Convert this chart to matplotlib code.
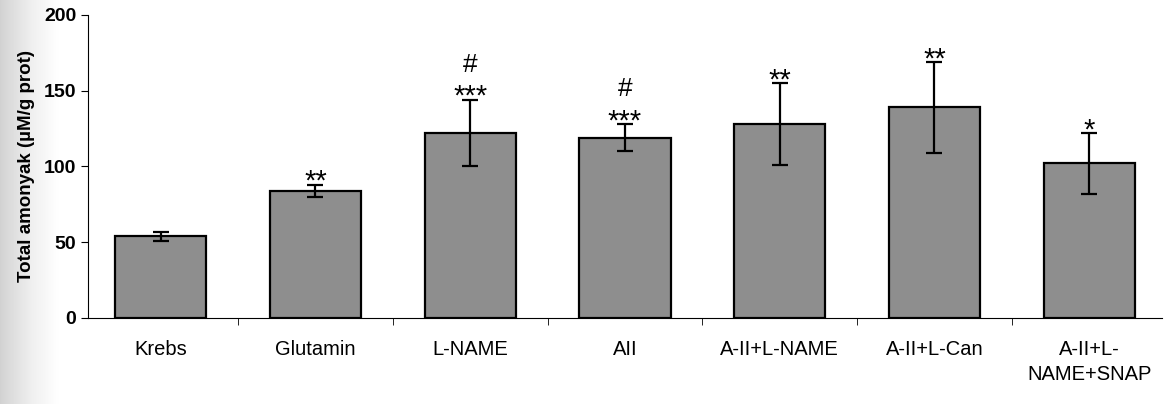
import matplotlib.pyplot as plt
import numpy as np

# total ammonia per group, mean and SD
groups = ['Krebs', 'Glutamin', 'L-NAME', 'AII', 'A-II+L-NAME', 'A-II+L-Can', 'A-II+L-\nNAME+SNAP']
means = [54, 84, 122, 119, 128, 139, 102]
sds = [3, 4, 22, 9, 27, 30, 20]
stars = ['', '**', '***', '***', '**', '**', '*']
hashes = ['', '', '#', '#', '', '', '']

plt.rcParams['font.family'] = ['Liberation Sans', 'DejaVu Sans']

fig = plt.figure(figsize=(11.66, 4.04), dpi=100)
ax = fig.add_axes([0.0755, 0.213, 0.921, 0.75])

# faint scan shadow along the left edge
shade = np.linspace(0.45, 0.0, 60)[None, :]
bg = fig.add_axes([0, 0, 0.05, 1], zorder=-5)
bg.imshow(shade, cmap='Greys', vmin=0, vmax=1.6, aspect='auto', extent=[0, 1, 0, 1])
bg.axis('off')

x = np.arange(len(groups))
ax.bar(x, means, width=0.59, color='#8e8e8e', edgecolor='black', linewidth=1.6, zorder=2)
ax.errorbar(x, means, yerr=sds, fmt='none', ecolor='black', elinewidth=1.6,
            capsize=6, capthick=1.6, zorder=3)

for xi, m, s, st, h in zip(x, means, sds, stars, hashes):
    if st:
        ax.annotate(st, (xi, m + s), xytext=(0, 2), textcoords='offset points',
                    ha='center', va='center', fontsize=21)
    if h:
        ax.annotate(h, (xi, m + s), xytext=(0, 25), textcoords='offset points',
                    ha='center', va='center', fontsize=19)

ax.set_xlim(-0.47, 6.47)
ax.set_ylim(0, 200)
ax.set_yticks([0, 50, 100, 150, 200])
ax.set_xticks(x)
ax.set_xticklabels(groups, fontsize=14.5, linespacing=1.4)
ax.set_xticks(np.arange(0.5, 6.5, 1), minor=True)
ax.tick_params(axis='x', which='major', length=0, pad=16)
ax.tick_params(axis='x', which='minor', length=5, direction='out')
ax.tick_params(axis='y', length=5, direction='out', labelsize=14)
for lbl in ax.get_yticklabels():
    lbl.set_fontweight('bold')

ax.set_ylabel('Total amonyak (µM/g prot)', fontsize=13.5, fontweight='bold', labelpad=6)

ax.spines['top'].set_visible(False)
ax.spines['right'].set_visible(False)

fig.savefig('out.png', dpi=100)
